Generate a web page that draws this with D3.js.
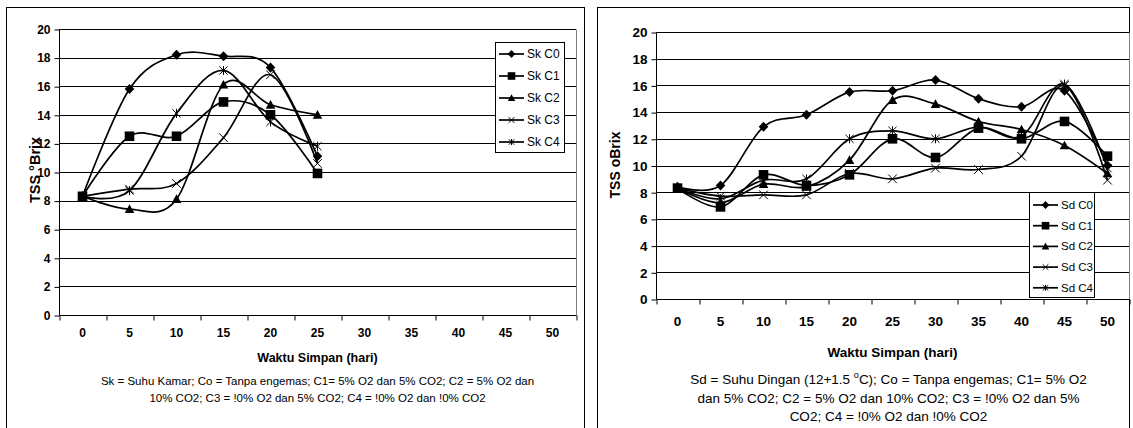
<!DOCTYPE html>
<html><head><meta charset="utf-8">
<script src="https://cdn.jsdelivr.net/npm/d3@7"></script>
<style>
html,body{margin:0;padding:0;background:#fff;}
svg{display:block;font-family:Arial,"Liberation Sans",sans-serif;}
</style></head>
<body>
<svg id="chart" width="1133" height="428"></svg>
<script>
// ---------- DATA ----------
const categories = ["0","5","10","15","20","25","30","35","40","45","50"];
const yTicks = [0,2,4,6,8,10,12,14,16,18,20];

// Left chart: Suhu Kamar (days 0..25)
const skNames = ["Sk C0","Sk C1","Sk C2","Sk C3","Sk C4"];
const skC0 = [8.3, 15.8, 18.2, 18.1, 17.3, 11.1];
const skC1 = [8.3, 12.5, 12.5, 14.9, 14.0, 9.9];
const skC2 = [8.3, 7.4, 8.1, 16.1, 14.7, 14.0];
const skC3 = [8.3, 8.8, 9.2, 12.4, 16.8, 10.6];
const skC4 = [8.3, 8.7, 14.1, 17.1, 13.5, 11.8];

// Right chart: Suhu Dingan (days 0..50)
const sdNames = ["Sd C0","Sd C1","Sd C2","Sd C3","Sd C4"];
const sdC0 = [8.4, 8.5, 12.9, 13.8, 15.5, 15.6, 16.4, 15.0, 14.4, 15.6, 10.0];
const sdC1 = [8.3, 6.9, 9.3, 8.5, 9.3, 12.0, 10.6, 12.8, 12.0, 13.3, 10.7];
const sdC2 = [8.3, 7.2, 8.6, 8.4, 10.4, 14.9, 14.6, 13.3, 12.7, 11.5, 9.4];
const sdC3 = [8.3, 7.7, 7.8, 7.8, 9.4, 9.0, 9.8, 9.7, 10.7, 16.0, 8.9];
const sdC4 = [8.3, 7.5, 8.9, 9.0, 12.0, 12.6, 12.0, 12.9, 12.2, 16.1, 9.8];

const markerTypes = ["diamond","square","triangle","cross","asterisk"];

const skCaption = [
  "Sk = Suhu Kamar; Co = Tanpa engemas; C1= 5% O2 dan 5% CO2; C2 = 5% O2 dan",
  "10% CO2; C3 = !0% O2 dan 5% CO2; C4 = !0% O2 dan !0% CO2"
];
const sdCaption = [
  ["Sd = Suhu Dingan (12+1.5 ", "o", "C); Co = Tanpa engemas; C1= 5% O2"],
  ["dan 5% CO2; C2 = 5% O2 dan 10% CO2; C3 = !0% O2 dan 5%"],
  ["CO2; C4 = !0% O2 dan !0% CO2"]
];

// ---------- DRAW ----------
const svg = d3.select("#chart");
svg.append("rect").attr("width",1133).attr("height",428).attr("fill","#fff");

function drawMarker(g, type, cx, cy, s) {
  if (type === "diamond") {
    g.append("path").attr("d", `M${cx},${cy-s*1.05}L${cx+s},${cy}L${cx},${cy+s*1.05}L${cx-s},${cy}Z`).attr("fill","#000");
  } else if (type === "square") {
    g.append("rect").attr("x",cx-s).attr("y",cy-s).attr("width",2*s).attr("height",2*s).attr("fill","#000");
  } else if (type === "triangle") {
    g.append("path").attr("d", `M${cx},${cy-s}L${cx+s},${cy+s*0.8}L${cx-s},${cy+s*0.8}Z`).attr("fill","#000");
  } else if (type === "cross") {
    const r = s*0.9;
    g.append("path").attr("d", `M${cx-r},${cy-r}L${cx+r},${cy+r}M${cx-r},${cy+r}L${cx+r},${cy-r}`).attr("stroke","#000").attr("stroke-width",1).attr("fill","none");
  } else if (type === "asterisk") {
    const r = s*0.85;
    g.append("path").attr("d", `M${cx-r},${cy-r}L${cx+r},${cy+r}M${cx-r},${cy+r}L${cx+r},${cy-r}M${cx},${cy-r*1.1}L${cx},${cy+r*1.1}`).attr("stroke","#000").attr("stroke-width",1).attr("fill","none");
  }
}

function drawChart(cfg) {
  const g = svg.append("g");
  g.append("rect").attr("x",cfg.panel[0]+0.5).attr("y",cfg.panel[1]+0.5)
    .attr("width",cfg.panel[2]).attr("height",cfg.panel[3])
    .attr("fill","#fff").attr("stroke","#000").attr("stroke-width",1);

  const x = d3.scaleBand().domain(categories).range([cfg.plot[0], cfg.plot[1]]).padding(0);
  const xEdge = d3.scaleLinear().domain([0, categories.length]).range([cfg.plot[0], cfg.plot[1]]);
  const y = d3.scaleLinear().domain([0,20]).range([cfg.plot[3], cfg.plot[2]]);

  g.append("g").selectAll("line").data(yTicks.filter(d=>d>0)).join("line")
    .attr("x1",cfg.plot[0]).attr("x2",cfg.plot[1])
    .attr("y1",d=>Math.round(y(d))+0.5).attr("y2",d=>Math.round(y(d))+0.5)
    .attr("stroke","#000").attr("stroke-width",1);
  g.append("line").attr("x1",cfg.plot[1]+0.5).attr("x2",cfg.plot[1]+0.5)
    .attr("y1",Math.round(y(20))+0.5).attr("y2",Math.round(y(0))+0.5)
    .attr("stroke","#808080").attr("stroke-width",1);

  const yAxis = d3.axisLeft(y).tickValues(yTicks).tickSize(5).tickPadding(4).tickFormat(d3.format("d"));
  const ya = g.append("g").attr("transform",`translate(${cfg.plot[0]+0.5},0.5)`).call(yAxis);
  ya.selectAll("text").attr("font-size",cfg.tickFont).attr("font-weight","bold").attr("fill","#000")
    .attr("font-family","Arial, 'Liberation Sans', sans-serif");
  ya.selectAll("line,path").attr("stroke","#000");
  ya.select(".domain").attr("d",`M0,${Math.round(y(20))}V${Math.round(y(0))}`);

  const xTickAxis = d3.axisBottom(xEdge).tickValues(d3.range(0,categories.length+1)).tickSize(5).tickFormat("");
  const xt = g.append("g").attr("transform",`translate(0.5,${Math.round(y(0))+0.5})`).call(xTickAxis);
  xt.selectAll("line,path").attr("stroke","#000");
  xt.select(".domain").attr("d",`M${cfg.plot[0]},0H${cfg.plot[1]}`);
  const xLabAxis = d3.axisBottom(x).tickSize(0).tickPadding(cfg.xLabPad);
  const xl = g.append("g").attr("transform",`translate(0,${Math.round(y(0))})`).call(xLabAxis);
  xl.select(".domain").remove();
  xl.selectAll("text").attr("font-size",cfg.tickFont).attr("font-weight","bold").attr("fill","#000")
    .attr("font-family","Arial, 'Liberation Sans', sans-serif");

  const line = d3.line().x((d,i)=>x(categories[i]) + x.bandwidth()/2).y(d=>y(d)).curve(d3.curveCardinal.tension(0));
  cfg.series.forEach((vals) => {
    g.append("path").datum(vals).attr("d", line).attr("fill","none").attr("stroke","#000").attr("stroke-width",1.7);
  });
  cfg.series.forEach((vals, si) => {
    const mg = g.append("g");
    vals.forEach((v,i) => drawMarker(mg, markerTypes[si], x(categories[i]) + x.bandwidth()/2, y(v), cfg.mk));
  });

  const L = cfg.legend;
  g.append("rect").attr("x",L.x+0.5).attr("y",L.y+0.5).attr("width",L.w).attr("height",L.h)
    .attr("fill","#fff").attr("stroke","#000").attr("stroke-width",1);
  cfg.names.forEach((n,i) => {
    const ly = L.y + L.first + i*L.step;
    g.append("line").attr("x1",L.x+4).attr("x2",L.x+29).attr("y1",ly).attr("y2",ly).attr("stroke","#000").attr("stroke-width",1.7);
    drawMarker(g, markerTypes[i], L.x+16.5, ly, markerTypes[i]==="cross"||markerTypes[i]==="asterisk" ? 3.2 : 3.8);
    g.append("text").attr("x",L.x+32).attr("y",ly).attr("dy","0.35em").attr("font-size",L.font).attr("fill","#000").text(n);
  });

  g.append("text").attr("transform",`translate(${cfg.yTitle[0]},${cfg.yTitle[1]}) rotate(-90)`)
    .attr("text-anchor","middle").attr("dy","0.35em").attr("font-size",cfg.titleFont).attr("font-weight","bold").text(cfg.yTitleText);
  const cx = (cfg.plot[0]+cfg.plot[1])/2;
  g.append("text").attr("x",cx).attr("y",cfg.xTitleY).attr("text-anchor","middle")
    .attr("font-size",cfg.xTitleFont).attr("font-weight","bold").text("Waktu Simpan (hari)");
  return {g, cx};
}

const left = drawChart({
  panel:[6,7,578,440], plot:[59,576,29,315],
  series:[skC0,skC1,skC2,skC3,skC4], names:skNames,
  legend:{x:495,y:42,w:69,h:110,first:12,step:22,font:12},
  tickFont:12, xLabPad:13, titleFont:14.5, xTitleFont:12.5, mk:4.8,
  yTitle:[35,170], yTitleText:"TSS °Brix", xTitleY:362
});
skCaption.forEach((t,i) => {
  left.g.append("text").attr("x",left.cx).attr("y",385+i*16.5).attr("text-anchor","middle")
    .attr("font-size",11.5).text(t);
});

const right = drawChart({
  panel:[597,7,532,440], plot:[656,1129,32,299],
  series:[sdC0,sdC1,sdC2,sdC3,sdC4], names:sdNames,
  legend:{x:1029,y:192,w:65,h:105,first:13,step:20.7,font:11.5},
  tickFont:13.5, xLabPad:17, titleFont:14, xTitleFont:13.5, mk:4.8,
  yTitle:[615,165], yTitleText:"TSS oBrix", xTitleY:357
});
sdCaption.forEach((parts,i) => {
  const t = right.g.append("text").attr("x",right.cx-4).attr("y",384+i*18.5).attr("text-anchor","middle")
    .attr("font-size",13.5);
  if (parts.length === 3) {
    t.append("tspan").text(parts[0]);
    t.append("tspan").attr("font-size",9).attr("dy",-6).text(parts[1]);
    t.append("tspan").attr("dy",6).text(parts[2]);
  } else {
    t.text(parts[0]);
  }
});
</script>
</body></html>
